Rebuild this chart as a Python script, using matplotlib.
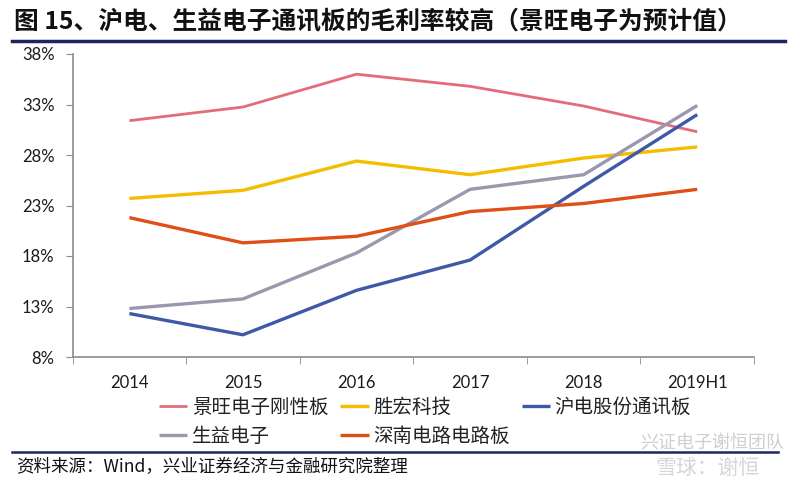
import matplotlib
matplotlib.use("Agg")
import matplotlib.pyplot as plt
from matplotlib.lines import Line2D
from matplotlib.ticker import FixedLocator, FuncFormatter

plt.rcParams['font.family'] = ['Noto Sans CJK SC', 'DejaVu Sans']

years = ["2014", "2015", "2016", "2017", "2018", "2019H1"]
jingwang = [31.4, 32.75, 36.0, 34.8, 32.85, 30.3]
shenghong = [23.7, 24.5, 27.4, 26.05, 27.7, 28.8]
hudian = [12.3, 10.2, 14.6, 17.6, 24.9, 32.0]
shengyi = [12.8, 13.75, 18.3, 24.6, 26.05, 32.9]
shennan = [21.8, 19.3, 19.95, 22.4, 23.2, 24.6]

names = ["景旺电子刚性板", "胜宏科技", "沪电股份通讯板", "生益电子", "深南电路电路板"]
yticks = [8, 13, 18, 23, 28, 33, 38]

title = "图 15、沪电、生益电子通讯板的毛利率较高（景旺电子为预计值）"
source = "资料来源：Wind，兴业证券经济与金融研究院整理"

colors = {
    "景旺电子刚性板": "#E46C78",
    "胜宏科技": "#F5BD00",
    "沪电股份通讯板": "#3D59A8",
    "生益电子": "#9A98AE",
    "深南电路电路板": "#DF4F16",
}
widths = {
    "景旺电子刚性板": 2.0,
    "胜宏科技": 2.4,
    "沪电股份通讯板": 2.4,
    "生益电子": 2.4,
    "深南电路电路板": 2.4,
}
series = {
    "景旺电子刚性板": jingwang,
    "胜宏科技": shenghong,
    "沪电股份通讯板": hudian,
    "生益电子": shengyi,
    "深南电路电路板": shennan,
}

W, H = 800, 484
fig = plt.figure(figsize=(W / 100, H / 100), dpi=100)
ax = fig.add_axes([72.6 / W, (H - 357) / H, (754 - 72.6) / W, (357 - 54) / H])

x = list(range(len(years)))
handles = {}
for n in names:
    (h,) = ax.plot(x, series[n], color=colors[n], lw=widths[n], solid_capstyle='butt')
    handles[n] = h

ax.set_xlim(-0.5, len(years) - 0.5)
ax.set_ylim(8, 38)
ax.yaxis.set_major_locator(FixedLocator(yticks))
ax.yaxis.set_major_formatter(FuncFormatter(lambda v, p: f"{v:.0f}%"))
ax.set_xticks(x)
ax.set_xticklabels(years)
ax.xaxis.set_minor_locator(FixedLocator([i + 0.5 for i in range(-1, len(years))]))
ax.tick_params(axis='x', which='major', length=0, pad=13)
ax.tick_params(axis='x', which='minor', length=5, color='#8c8c8c', direction='out')
ax.tick_params(axis='y', length=5, color='#8c8c8c', direction='out', pad=8)
for lab in ax.get_xticklabels() + ax.get_yticklabels():
    lab.set_fontfamily(['Lato', 'DejaVu Sans'])
    lab.set_fontsize(12)
    lab.set_color('#1a1a1a')
for s in ['top', 'right']:
    ax.spines[s].set_visible(False)
for s in ['left', 'bottom']:
    ax.spines[s].set_color('#8c8c8c')
    ax.spines[s].set_linewidth(1.2)

order = ["景旺电子刚性板", "生益电子", "胜宏科技", "深南电路电路板", "沪电股份通讯板"]
leg = fig.legend([handles[n] for n in order], order, ncol=3,
                 loc='upper left', bbox_to_anchor=(159 / W, 1 - 397 / H),
                 frameon=False, fontsize=14, handlelength=1.45, handletextpad=0.23,
                 columnspacing=0.63, labelspacing=0.39, borderaxespad=0, borderpad=0)
for t in leg.get_texts():
    t.set_color('#222222')

# title and rules
fig.text(14 / W, 1 - 22 / H, title, fontsize=17.8, fontweight='bold', color='#111111',
         va='center', ha='left')
fig.add_artist(Line2D([12 / W, 785 / W], [1 - 41 / H, 1 - 41 / H], color='#1F2560', lw=2.5))
fig.add_artist(Line2D([12 / W, 778 / W], [1 - 452 / H, 1 - 452 / H], color='#1F2560', lw=1.8))
fig.text(16 / W, 1 - 467 / H, source, fontsize=12.6, color='#111111', va='center', ha='left')

# watermark
fig.text(640 / W, 1 - 443 / H, "兴证电子谢恒团队", fontsize=13, color='#cfcfcf', va='center', ha='left')
fig.text(655 / W, 1 - 468 / H, "雪球：谢恒", fontsize=15, color='#d6d6d6', va='center', ha='left')

fig.savefig("out.png", dpi=100)
